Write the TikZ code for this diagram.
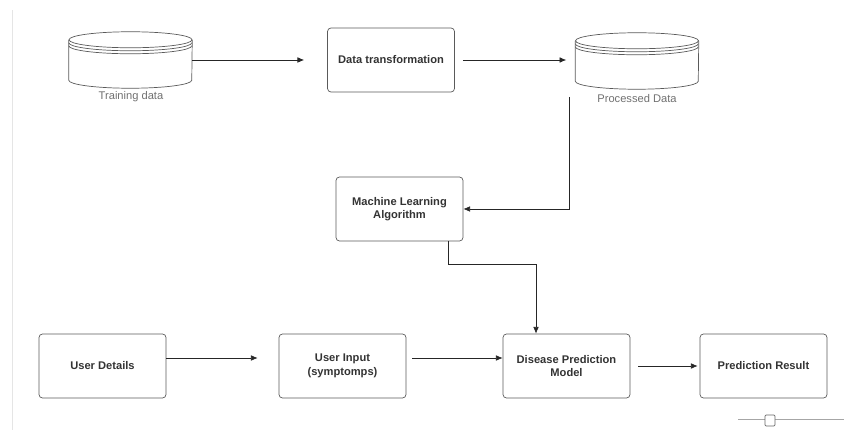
\documentclass[tikz,border=0pt]{standalone}
\usepackage{fontspec}
\setmainfont{Liberation Sans}
\usetikzlibrary{arrows.meta}

\definecolor{boxline}{HTML}{5A5A5A}
\definecolor{boxtext}{HTML}{333333}
\definecolor{labeltext}{HTML}{707070}

\tikzset{
	procbox/.style={draw=boxline, line width=0.6pt, rounded corners=3pt, minimum width=3.81cm, minimum height=1.92cm, align=center, text=boxtext, font=\fontsize{9.5}{11.5}\selectfont\bfseries},
	storenode/.style={minimum width=3.69cm, minimum height=1.68cm, inner sep=0pt},
	storeline/.style={draw=boxline, line width=0.6pt},
	storelabel/.style={text=labeltext, inner sep=0pt, font=\fontsize{9.5}{11}\selectfont},
	flowarrow/.style={draw=black!85, line width=0.6pt, -{Latex[length=2mm,width=1.7mm]}},
}

% datastore: name, x, y
\newcommand{\datastore}[3]{%
	\node[storenode] (#1) at (#2,#3) {};
	\draw[storeline] ([yshift=-0.24cm]#1.north west) -- ([yshift=0.24cm]#1.south west)
		arc[start angle=180, end angle=360, x radius=1.845cm, y radius=0.24cm]
		-- ([yshift=-0.24cm]#1.north east);
	\draw[storeline] ([yshift=-0.24cm]#1.north) ellipse [x radius=1.845cm, y radius=0.24cm];
	\foreach \ring in {0.09,0.18}
		\draw[storeline] ([yshift=-0.24cm-\ring cm]#1.north west) arc[start angle=180, end angle=360, x radius=1.845cm, y radius=0.24cm];
}

\begin{document}
\begin{tikzpicture}[x=0.03cm, y=0.03cm]
		\useasboundingbox (0,0) rectangle (844,-430);
		% Canvas edge and zoom slider:
		\coordinate (canvas-top) at (12,-10);
		\coordinate (canvas-bottom) at (12,-430);
		\draw[gray!20, line width=0.8pt] (canvas-top) -- (canvas-bottom);
		\coordinate (slider-start) at (738,-419);
		\coordinate (slider-end) at (844,-419);
		\draw[gray!70, line width=0.6pt] (slider-start) -- (slider-end);
		\node[draw=gray!80!black, line width=0.6pt, fill=white, rounded corners=1pt, minimum width=0.3cm, minimum height=0.33cm, inner sep=0pt] (slider-knob) at (770,-420.5){};
		% Stores and boxes:
		\datastore{train}{130.5}{-60}
		\datastore{proc}{637}{-61}
		\node[storelabel] (train-label) at (131,-97){Training data};
		\node[storelabel] (proc-label) at (637,-99){Processed Data};
		\node[procbox] (transform) at (391,-60){Data transformation};
		\node[procbox] (mlalgo) at (399.5,-209){Machine Learning\\Algorithm};
		\node[procbox] (details) at (102.5,-366){User Details};
		\node[procbox] (input) at (342.5,-366){User Input\\(symptomps)};
		\node[procbox] (model) at (566.5,-366){Disease Prediction\\Model};
		\node[procbox] (result) at (763.5,-366){Prediction Result};
		% Connectors:
		\draw[flowarrow, shorten >=0.69cm] (train.east) -- (transform.west);
		\draw[flowarrow, shorten <=0.24cm, shorten >=0.27cm] (transform.east) -- (transform.east -| proc.west);
		\coordinate (proc-out) at (569,-97);
		\draw[flowarrow] (proc-out) |- (mlalgo.east);
		\draw[flowarrow] ([xshift=1.46cm]mlalgo.south) -- ++(0,-23) -| ([xshift=-0.915cm]model.north);
		\draw[flowarrow, shorten >=0.63cm] ([yshift=0.24cm]details.east) -- ([yshift=0.24cm]input.west);
		\draw[flowarrow, shorten <=0.18cm] ([yshift=0.24cm]input.east) -- ([yshift=0.24cm]model.west);
		\draw[flowarrow, shorten <=0.24cm, shorten >=0.06cm] (model) -- (result);
	\end{tikzpicture}
\end{document}
